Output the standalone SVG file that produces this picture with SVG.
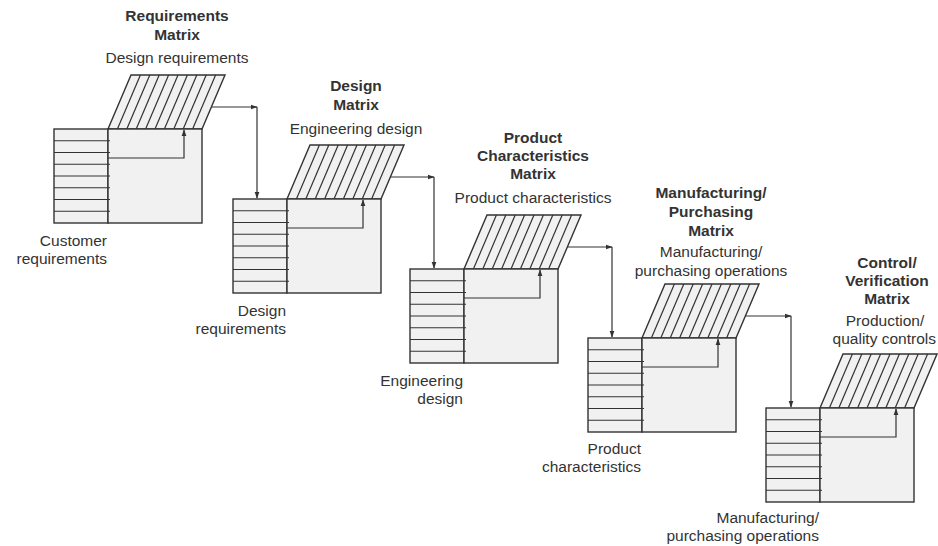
<svg xmlns="http://www.w3.org/2000/svg" width="938" height="546" viewBox="0 0 938 546">
<defs>
<marker id="ah" viewBox="0 0 10 10" refX="9" refY="5" markerWidth="7" markerHeight="7" orient="auto" markerUnits="userSpaceOnUse"><path d="M0,1.5 L10,5 L0,8.5 Z" fill="#333"/></marker>
<g id="mx">
<polygon class="box" points="54,0 148,0 171,-54 77,-54"/>
<g class="ln">
<line x1="63.4" y1="0" x2="86.4" y2="-54"/><line x1="72.8" y1="0" x2="95.8" y2="-54"/><line x1="82.2" y1="0" x2="105.2" y2="-54"/><line x1="91.6" y1="0" x2="114.6" y2="-54"/><line x1="101" y1="0" x2="124" y2="-54"/><line x1="110.4" y1="0" x2="133.4" y2="-54"/><line x1="119.8" y1="0" x2="142.8" y2="-54"/><line x1="129.2" y1="0" x2="152.2" y2="-54"/><line x1="138.6" y1="0" x2="161.6" y2="-54"/>
</g>
<rect class="box" x="0" y="0" width="54" height="94"/>
<rect class="box" x="54" y="0" width="94" height="94"/>
<g class="ln">
<line x1="0" y1="11.75" x2="56" y2="11.75"/><line x1="0" y1="23.5" x2="56" y2="23.5"/><line x1="0" y1="35.25" x2="56" y2="35.25"/><line x1="0" y1="47" x2="56" y2="47"/><line x1="0" y1="58.75" x2="56" y2="58.75"/><line x1="0" y1="70.5" x2="56" y2="70.5"/><line x1="0" y1="82.25" x2="56" y2="82.25"/>
</g>
<polyline class="ln" points="54,29 130,29 130,1" marker-end="url(#ah)"/>
</g>
</defs>
<style>
.box{fill:#f1f1f1;stroke:#333;stroke-width:1.4}
.ln{fill:none;stroke:#333;stroke-width:1.2}
.t{font-family:"Liberation Sans",Arial,sans-serif;font-size:15.5px;fill:#333;text-anchor:middle}
.b{font-weight:bold}
.r{font-family:"Liberation Sans",Arial,sans-serif;font-size:15.5px;fill:#333;text-anchor:end}
</style>
<rect width="938" height="546" fill="#fff"/>

<g id="connectors" class="ln">
<polyline points="211.4,107 257,107" marker-end="url(#ah)"/><polyline points="257,107 257,198" marker-end="url(#ah)"/>
<polyline points="390.4,177 434,177" marker-end="url(#ah)"/><polyline points="434,177 434,268" marker-end="url(#ah)"/>
<polyline points="567.4,247 612,247" marker-end="url(#ah)"/><polyline points="612,247 612,337" marker-end="url(#ah)"/>
<polyline points="745.4,316 791,316" marker-end="url(#ah)"/><polyline points="791,316 791,407" marker-end="url(#ah)"/>
</g>

<g id="requirements-matrix">
<use href="#mx" x="54" y="129"/>
<text class="t b" x="177" y="21">Requirements</text>
<text class="t b" x="177" y="40">Matrix</text>
<text class="t" x="177" y="63">Design requirements</text>
<text class="r" x="107" y="246">Customer</text>
<text class="r" x="107" y="264">requirements</text>
</g>

<g id="design-matrix">
<use href="#mx" x="233" y="199"/>
<text class="t b" x="356" y="91">Design</text>
<text class="t b" x="356" y="110">Matrix</text>
<text class="t" x="356" y="134">Engineering design</text>
<text class="r" x="286" y="316">Design</text>
<text class="r" x="286" y="334">requirements</text>
</g>

<g id="product-characteristics-matrix">
<use href="#mx" x="410" y="269"/>
<text class="t b" x="533" y="143">Product</text>
<text class="t b" x="533" y="161">Characteristics</text>
<text class="t b" x="533" y="179">Matrix</text>
<text class="t" x="533" y="203">Product characteristics</text>
<text class="r" x="463" y="386">Engineering</text>
<text class="r" x="463" y="404">design</text>
</g>

<g id="manufacturing-purchasing-matrix">
<use href="#mx" x="588" y="338"/>
<text class="t b" x="711" y="198">Manufacturing/</text>
<text class="t b" x="711" y="217">Purchasing</text>
<text class="t b" x="711" y="236">Matrix</text>
<text class="t" x="711" y="257">Manufacturing/</text>
<text class="t" x="711" y="276">purchasing operations</text>
<text class="r" x="641" y="454">Product</text>
<text class="r" x="641" y="472">characteristics</text>
</g>

<g id="control-verification-matrix">
<use href="#mx" x="766" y="408"/>
<text class="t b" x="887" y="268">Control/</text>
<text class="t b" x="887" y="286">Verification</text>
<text class="t b" x="887" y="304">Matrix</text>
<text class="t" x="885" y="326">Production/</text>
<text class="r" x="936" y="344">quality controls</text>
<text class="r" x="819" y="523">Manufacturing/</text>
<text class="r" x="819" y="541">purchasing operations</text>
</g>
</svg>
